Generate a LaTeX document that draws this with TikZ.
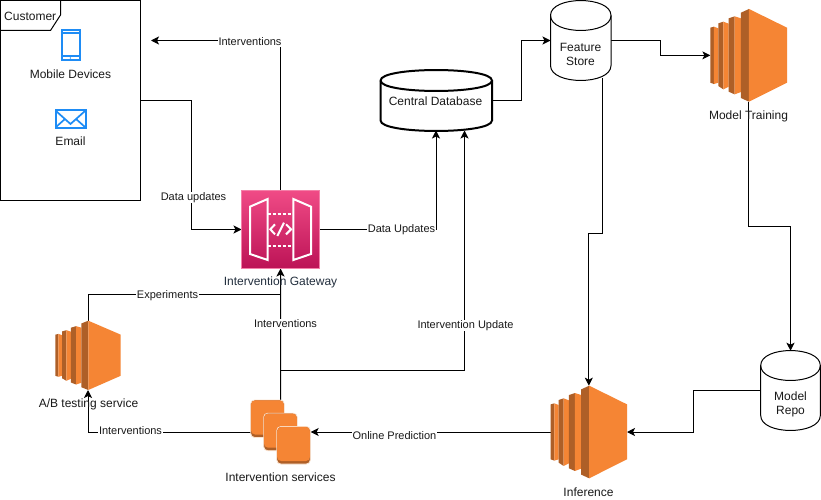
\documentclass[tikz,border=0pt]{standalone}
\usepackage{fontspec}
\setmainfont{Liberation Sans}
\usetikzlibrary{arrows.meta}
\definecolor{ecfront}{HTML}{F58534}
\definecolor{ecdark}{HTML}{AE5F27}
\definecolor{iconblue}{HTML}{1E8CF5}
\definecolor{gwtop}{HTML}{F04B86}
\definecolor{gwbot}{HTML}{BC1356}
\definecolor{gwedge}{HTML}{F47FA8}
\definecolor{awstext}{HTML}{232F3E}
\definecolor{svcedge}{HTML}{FBE3CF}
\tikzset{
  every node/.style={font=\fontsize{12}{14}\selectfont, text=black!90},
  slot/.style={rectangle, inner sep=0pt, outer sep=0pt, draw=none},
  conn/.style={draw=black, line width=1pt},
  arr/.style={conn, -{Stealth[length=8pt,width=8pt,inset=2pt]}},
  elabel/.style={fill=white, inner sep=0.6pt, font=\fontsize{11}{13}\selectfont},
  caption/.style={inner sep=0pt},
  dbline/.style={draw=black, fill=white, line width=1pt},
}
\newcommand{\ectwo}[4]{%
  \begin{scope}[shift={(#1,#2)}, x=#3pt/230, y=-#4pt/278]
    \fill[ecdark] (0,56)--(11,53)--(11,225)--(0,221)--cycle;
    \fill[ecfront] (11,53)--(24,58)--(24,221)--(11,225)--cycle;
    \fill[ecdark] (24,43)--(39,38)--(39,241)--(24,231)--cycle;
    \fill[ecfront] (39,38)--(55,44)--(55,233)--(39,241)--cycle;
    \fill[ecdark] (55,28)--(73,22)--(73,256)--(55,248)--cycle;
    \fill[ecfront] (73,22)--(92,28)--(92,249)--(73,256)--cycle;
    \fill[ecdark] (92,11)--(116,0)--(116,278)--(92,267)--cycle;
    \fill[ecfront] (116,0)--(230,56)--(230,221)--(116,278)--cycle;
  \end{scope}}
\newcommand{\svcsq}[2]{%
  \fill[ecdark, draw=svcedge, line width=0.8pt, rounded corners=4pt] (#1,#2) rectangle ++(33.5,37.5);
  \fill[ecfront, rounded corners=4pt] (#1+0.4,#2+0.4) rectangle (#1+33.1,#2+34.5);}
% cylinder: x-left, x-right, top-of-wall y, bottom-of-wall y, x radius, y radius, line width
\newcommand{\cyl}[7]{%
  \draw[draw=black, fill=white, line width=#7pt] (#1,#3)
     .. controls (#1,#3-1.33*#6) and (#2,#3-1.33*#6) .. (#2,#3)
     -- (#2,#4)
     .. controls (#2,#4+1.33*#6) and (#1,#4+1.33*#6) .. (#1,#4) -- cycle;
  \draw[draw=black, line width=#7pt] (#1,#3)
     .. controls (#1,#3+1.33*#6) and (#2,#3+1.33*#6) .. (#2,#3);}
\begin{document}
\begin{tikzpicture}[x=1pt,y=-1pt]
\useasboundingbox (0,0) rectangle (821,500);
\fill[white] (0,0) rectangle (821,500);

% layout slots
\node[slot, minimum width=140pt, minimum height=200pt] (cust) at (70.5,100.5) {};
\node[slot, minimum width=78pt, minimum height=78pt] (gw) at (280.5,229.5) {};
\node[slot, minimum width=111.5pt, minimum height=61pt] (db) at (436.25,100.5) {};
\node[slot, minimum width=60.5pt, minimum height=80pt] (fs) at (580.75,40.5) {};
\node[slot, minimum width=76.7pt, minimum height=92.7pt] (train) at (748.7,55.35) {};
\node[slot, minimum width=59.6pt, minimum height=79.5pt] (repo) at (790.5,390.5) {};
\node[slot, minimum width=76.3pt, minimum height=92.6pt] (inf) at (588.85,432) {};
\node[slot, minimum width=60pt, minimum height=64pt] (svc) at (280.7,432) {};
\node[slot, minimum width=65.4pt, minimum height=69.3pt] (ab) at (88,355.35) {};

\coordinate (custin) at (151,40.5);
\coordinate (fsout) at (602,78);
\coordinate (dbinb) at (464.5,130.5);

% connectors
\coordinate (jA) at (280.5,370.5);
\draw[arr] (gw.north) -- (gw.north |- custin) -- (custin);
\draw[arr] (cust.east) -- (191,100.5) -- (191,229.5) -- (gw.west);
\draw[arr] (gw.east) -- (436,229.5) -- (436,130.5);
\draw[arr] (db.east) -- (521,100.5) -- (521,40.5) -- (fs.west);
\draw[arr] (fs.east) -- (660.5,40.5) -- (660.5,55.35) -- (train.west);
\draw[arr] (fsout) -- (602,233) -- (588.85,233) -- (inf.north);
\draw[arr] (train.south) -- (748.7,226) -- (790.5,226) -- (repo.north);
\draw[arr] (repo.west) -- (693.5,390.5) -- (693.5,432) -- (inf.east);
\draw[arr] (inf.west) -- (svc.east);
\draw[arr] (svc.west) -- (88,432) -- (ab.south);
\draw[arr] (svc.north) -- (gw.south);
\draw[arr] (jA) -- (464.5,370.5) -- (dbinb);
\draw[conn] (ab.north) -- (88,294.5) -- (280.5,294.5);

% edge labels
\node[elabel] (l1) at (250,42) {Interventions};
\node[elabel] (l2) at (193.5,197.5) {Data updates};
\node[elabel] (l3) at (401.5,229.5) {Data Updates};
\node[elabel] (l4) at (167.5,295.5) {Experiments};
\node[elabel] (l5) at (285.5,324) {Interventions};
\node[elabel] (l6) at (465.5,325.5) {Intervention Update};
\node[elabel] (l7) at (394.5,436) {Online Prediction};
\node[elabel] (l8) at (130.5,431) {Interventions};

% customer
\draw[black, line width=1pt] (0.5,0.5) rectangle (140.5,200.5);
\draw[black, line width=1pt] (60.5,0.5) -- (60.5,15) -- (50.5,30.5) -- (0.5,30.5);
\node[caption, anchor=west] (custname) at (4,16) {Customer};
% phone
\draw[iconblue, line width=2pt] (61.5,30.5) rectangle (79.5,60.5);
\draw[iconblue, line width=1.2pt] (61,33) -- (80,33) (61,56) -- (80,56);
\fill[iconblue] (70.4,58) circle (0.8pt);
\node[caption] (mobile) at (70.5,74) {Mobile Devices};
% mail
\draw[iconblue, line width=2pt, fill=white] (55.5,110.5) rectangle (85.5,127.5);
\draw[iconblue, line width=1.7pt] (56,111) -- (70.5,124) -- (85,111);
\draw[iconblue, line width=1.7pt] (56,127) -- (65,119) (85,127) -- (76,119);
\node[caption] (email) at (70.5,141) {Email};

% gateway
\shade[top color=gwtop, bottom color=gwbot] (241.5,190.5) rectangle (319.5,268.5);
\draw[gwedge, line width=0.8pt] (241.5,190.5) rectangle (319.5,268.5);
\begin{scope}[white, line width=2pt, line join=miter, shift={(220,180)}, x=1pt/3, y=-1pt/3]
  \draw (90,80)--(143,57)--(143,240)--(90,222)--cycle;
  \draw (220,57)--(273,80)--(273,222)--(220,240)--cycle;
  \draw[dash pattern=on 3pt off 2pt] (143,102)--(220,102) (143,197)--(220,197);
  \draw (165,133)--(151,148)--(165,163);
  \draw (172,168)--(192,128);
  \draw (198,133)--(213,148)--(198,163);
\end{scope}
\node[caption, text=awstext] (gwname) at (280.5,282) {Intervention Gateway};

% database
\cyl{380.5}{492}{80.5}{120.5}{55.75}{10.5}{2}
\node[caption] (dbname) at (435.5,101) {Central Database};

% feature store
\cyl{550.5}{611}{15.5}{65.5}{30.25}{15}{1}
\node[caption, align=center] (fsname) at (580.5,54) {Feature\\Store};

% model repo
\cyl{760.7}{820.3}{365.5}{415.5}{29.8}{15}{1}
\node[caption, align=center] (reponame) at (790.5,404) {Model\\Repo};

% EC2 icons
\ectwo{710.3}{9}{76.7}{92.7}
\node[caption] (trainname) at (748.5,116) {Model Training};
\ectwo{550.7}{385.7}{76.3}{92.6}
\node[caption] (infname) at (588.5,492) {Inference};
\ectwo{55.3}{320.7}{65.4}{69.3}
\node[caption] (abname) at (88.5,404) {A/B testing service};

% services
\svcsq{250.7}{400}
\svcsq{263.7}{413.2}
\svcsq{276.8}{426.5}
\node[caption] (svcname) at (280.5,477) {Intervention services};
\end{tikzpicture}
\end{document}
